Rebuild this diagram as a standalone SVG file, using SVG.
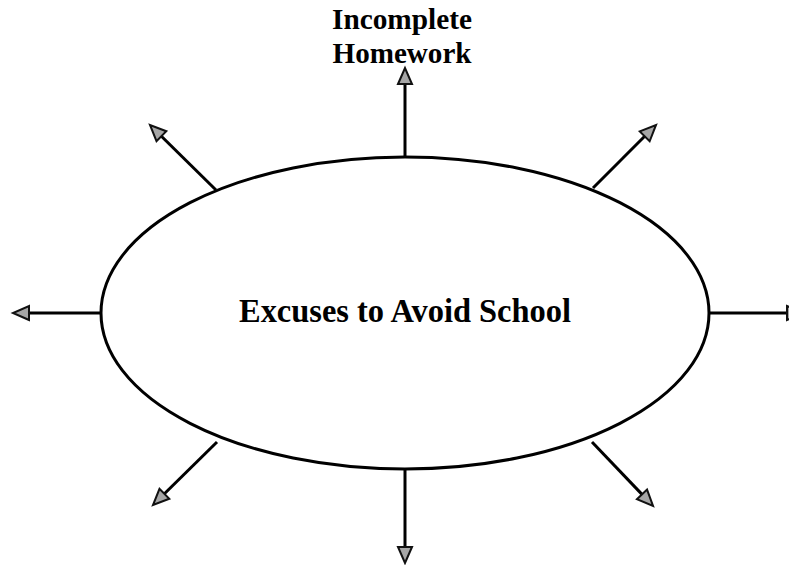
<svg xmlns="http://www.w3.org/2000/svg" width="789" height="565" viewBox="0 0 789 565">
<style>
.conn{stroke:#000;stroke-width:3;fill:none;marker-end:url(#ah)}
.lbl{font-family:"Liberation Serif","Times New Roman",serif;font-weight:bold;fill:#000;text-anchor:middle}
</style>
<defs>
<marker id="ah" viewBox="-2 -9 20 18" refX="0" refY="0" markerWidth="20" markerHeight="18" markerUnits="userSpaceOnUse" orient="auto" overflow="visible">
<path d="M0,-7 L16,0 L0,7 Z" fill="#a6a6a6" stroke="#111" stroke-width="2" stroke-linejoin="miter"/>
</marker>
</defs>
<rect width="789" height="565" fill="#fff"/>
<g id="connectors">
<line class="conn" x1="405" y1="157" x2="405" y2="84"/>
<line class="conn" x1="216" y1="190" x2="161.4" y2="136.2"/>
<line class="conn" x1="101" y1="313" x2="29" y2="313"/>
<line class="conn" x1="709" y1="313" x2="787" y2="313"/>
<line class="conn" x1="593" y1="188" x2="644.7" y2="136.3"/>
<line class="conn" x1="592" y1="442" x2="642" y2="494.4"/>
<line class="conn" x1="217" y1="442" x2="164.4" y2="493.8"/>
<line class="conn" x1="405" y1="470" x2="405" y2="547"/>
</g>
<g id="center">
<ellipse cx="405" cy="313" rx="304" ry="156" fill="#fff" stroke="#000" stroke-width="3"/>
<text class="lbl" x="405" y="322" font-size="33" textLength="332" lengthAdjust="spacingAndGlyphs">Excuses to Avoid School</text>
</g>
<g id="incomplete-homework">
<text class="lbl" x="402" y="29" font-size="30" textLength="140" lengthAdjust="spacingAndGlyphs">Incomplete</text>
<text class="lbl" x="402" y="63" font-size="30" textLength="139" lengthAdjust="spacingAndGlyphs">Homework</text>
</g>
</svg>
